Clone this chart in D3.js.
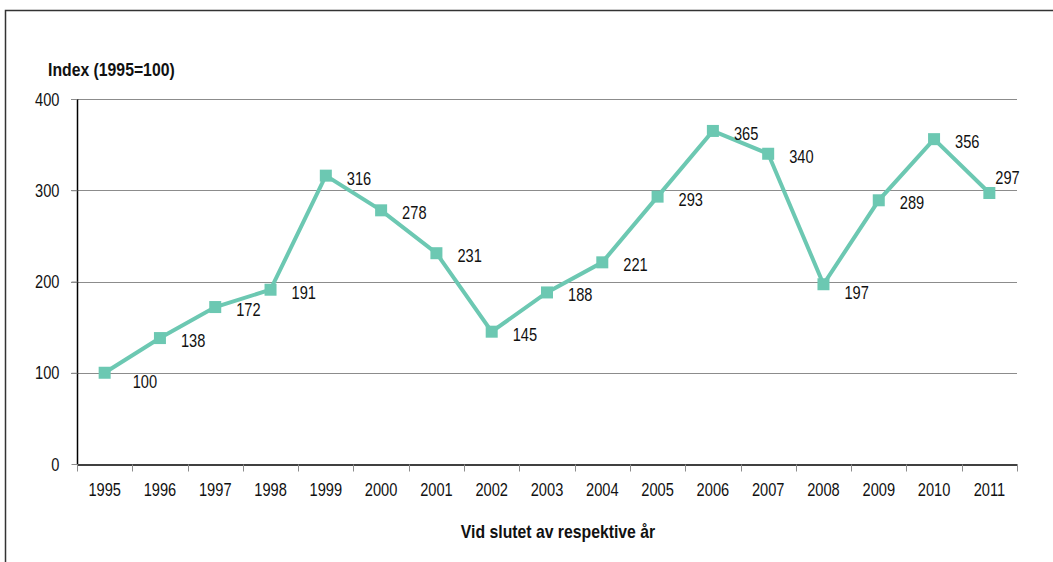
<!DOCTYPE html>
<html>
<head>
<meta charset="utf-8">
<script src="https://cdn.jsdelivr.net/npm/d3@7"></script>
<style>
  body { margin: 0; background: #fff; }
  text { font-family: "Liberation Sans Narrow", "Arial Narrow", "Liberation Sans", Arial, sans-serif; }
</style>
</head>
<body>
<div class="chart"></div>
<script>
var years = ["1995","1996","1997","1998","1999","2000","2001","2002","2003",
             "2004","2005","2006","2007","2008","2009","2010","2011"];
var values = [100, 138, 172, 191, 316, 278, 231, 145, 188, 221, 293, 365, 340, 197, 289, 356, 297];
var yTicks = [0, 100, 200, 300, 400];

var yTitle = "Index (1995=100)";
var xTitle = "Vid slutet av respektive år";

var width = 1053, height = 562;
var margin = {top: 99, right: 36, bottom: 98, left: 77};
var fontSize = "19px";

var svg = d3.select(".chart")
            .append("svg")
            .attr("width", width)
            .attr("height", height);

// outer frame
svg.append("rect")
   .attr("x", 5.5).attr("y", 10.5)
   .attr("width", 1060).attr("height", 600)
   .attr("fill", "none")
   .attr("stroke", "#333")
   .attr("stroke-width", 1.5);

var x = d3.scaleBand()
          .domain(years)
          .range([margin.left, width - margin.right]);

var y = d3.scaleLinear()
          .domain([0, 400])
          .range([height - margin.bottom, margin.top]);

// gridlines
svg.append("g")
   .selectAll("line")
   .data(yTicks.filter(function(d){ return d > 0; }))
   .enter().append("line")
   .attr("x1", margin.left - 6).attr("x2", width - margin.right)
   .attr("y1", function(d){ return Math.round(y(d)) + 0.5; })
   .attr("y2", function(d){ return Math.round(y(d)) + 0.5; })
   .attr("stroke", "#8c8c8c")
   .attr("stroke-width", 1);

// y axis
var yAxis = svg.append("g")
   .attr("transform", "translate(" + (margin.left + 0.5) + ",0)")
   .call(d3.axisLeft(y).tickValues(yTicks).tickSize(6).tickPadding(12));
yAxis.select(".domain").attr("stroke", "#000").attr("stroke-width", 1.5).attr("d", "M0," + y(400) + "V" + y(0));
yAxis.selectAll(".tick line").attr("stroke", "#8c8c8c");
yAxis.selectAll(".tick text").style("font-size", fontSize).attr("fill", "#111");

// x axis
var xAxis = svg.append("g")
   .attr("transform", "translate(0," + (Math.round(y(0)) + 0.5) + ")")
   .call(d3.axisBottom(x).tickSize(0).tickPadding(18));
xAxis.select(".domain").attr("stroke", "#000").attr("stroke-width", 1.5);
xAxis.selectAll(".tick text").style("font-size", fontSize).attr("fill", "#111");

// category boundary ticks
var bounds = years.map(function(d){ return x(d); }).concat([x.range()[1]]);
xAxis.append("g").selectAll("line")
   .data(bounds).enter().append("line")
   .attr("x1", function(d){ return Math.round(d) + 0.5; })
   .attr("x2", function(d){ return Math.round(d) + 0.5; })
   .attr("y1", 0).attr("y2", 7)
   .attr("stroke", "#8c8c8c");

// titles
svg.append("text")
   .attr("class", "title")
   .attr("x", 48).attr("y", 76)
   .style("font-size", fontSize).style("font-weight", "bold")
   .attr("fill", "#111")
   .text(yTitle);

svg.append("text")
   .attr("class", "title")
   .attr("x", 558).attr("y", 538)
   .attr("text-anchor", "middle")
   .style("font-size", fontSize).style("font-weight", "bold")
   .attr("fill", "#111")
   .text(xTitle);

// line
var cx = function(i){ return x(years[i]) + x.bandwidth() / 2; };
var line = d3.line()
   .x(function(d, i){ return cx(i); })
   .y(function(d){ return y(d); });

svg.append("path")
   .datum(values)
   .attr("d", line)
   .attr("fill", "none")
   .attr("stroke", "#6cc8b2")
   .attr("stroke-width", 4)
   .attr("stroke-linejoin", "miter");

svg.append("g")
   .selectAll("rect")
   .data(values)
   .enter().append("rect")
   .attr("x", function(d, i){ return cx(i) - 6; })
   .attr("y", function(d){ return y(d) - 6; })
   .attr("width", 12).attr("height", 12)
   .attr("fill", "#6cc8b2");

// data labels
svg.append("g")
   .selectAll("text")
   .data(values)
   .enter().append("text")
   .attr("x", function(d, i){ return i === values.length - 1 ? cx(i) + 6 : cx(i) + 21 + (i === 0 ? 7 : 0); })
   .attr("y", function(d, i){ return i === values.length - 1 ? y(d) - 9 : y(d) + 9 + (i === 0 || i === 13 ? 6 : 0); })
   .style("font-size", fontSize)
   .attr("fill", "#111")
   .text(function(d){ return d; });

// squeeze all text to look like a narrow face
svg.selectAll("text").each(function(){
  var w = this.getComputedTextLength();
  var k = d3.select(this).classed("title") ? 0.83 : 0.77;
  d3.select(this).attr("textLength", w * k).attr("lengthAdjust", "spacingAndGlyphs");
});
</script>
</body>
</html>
